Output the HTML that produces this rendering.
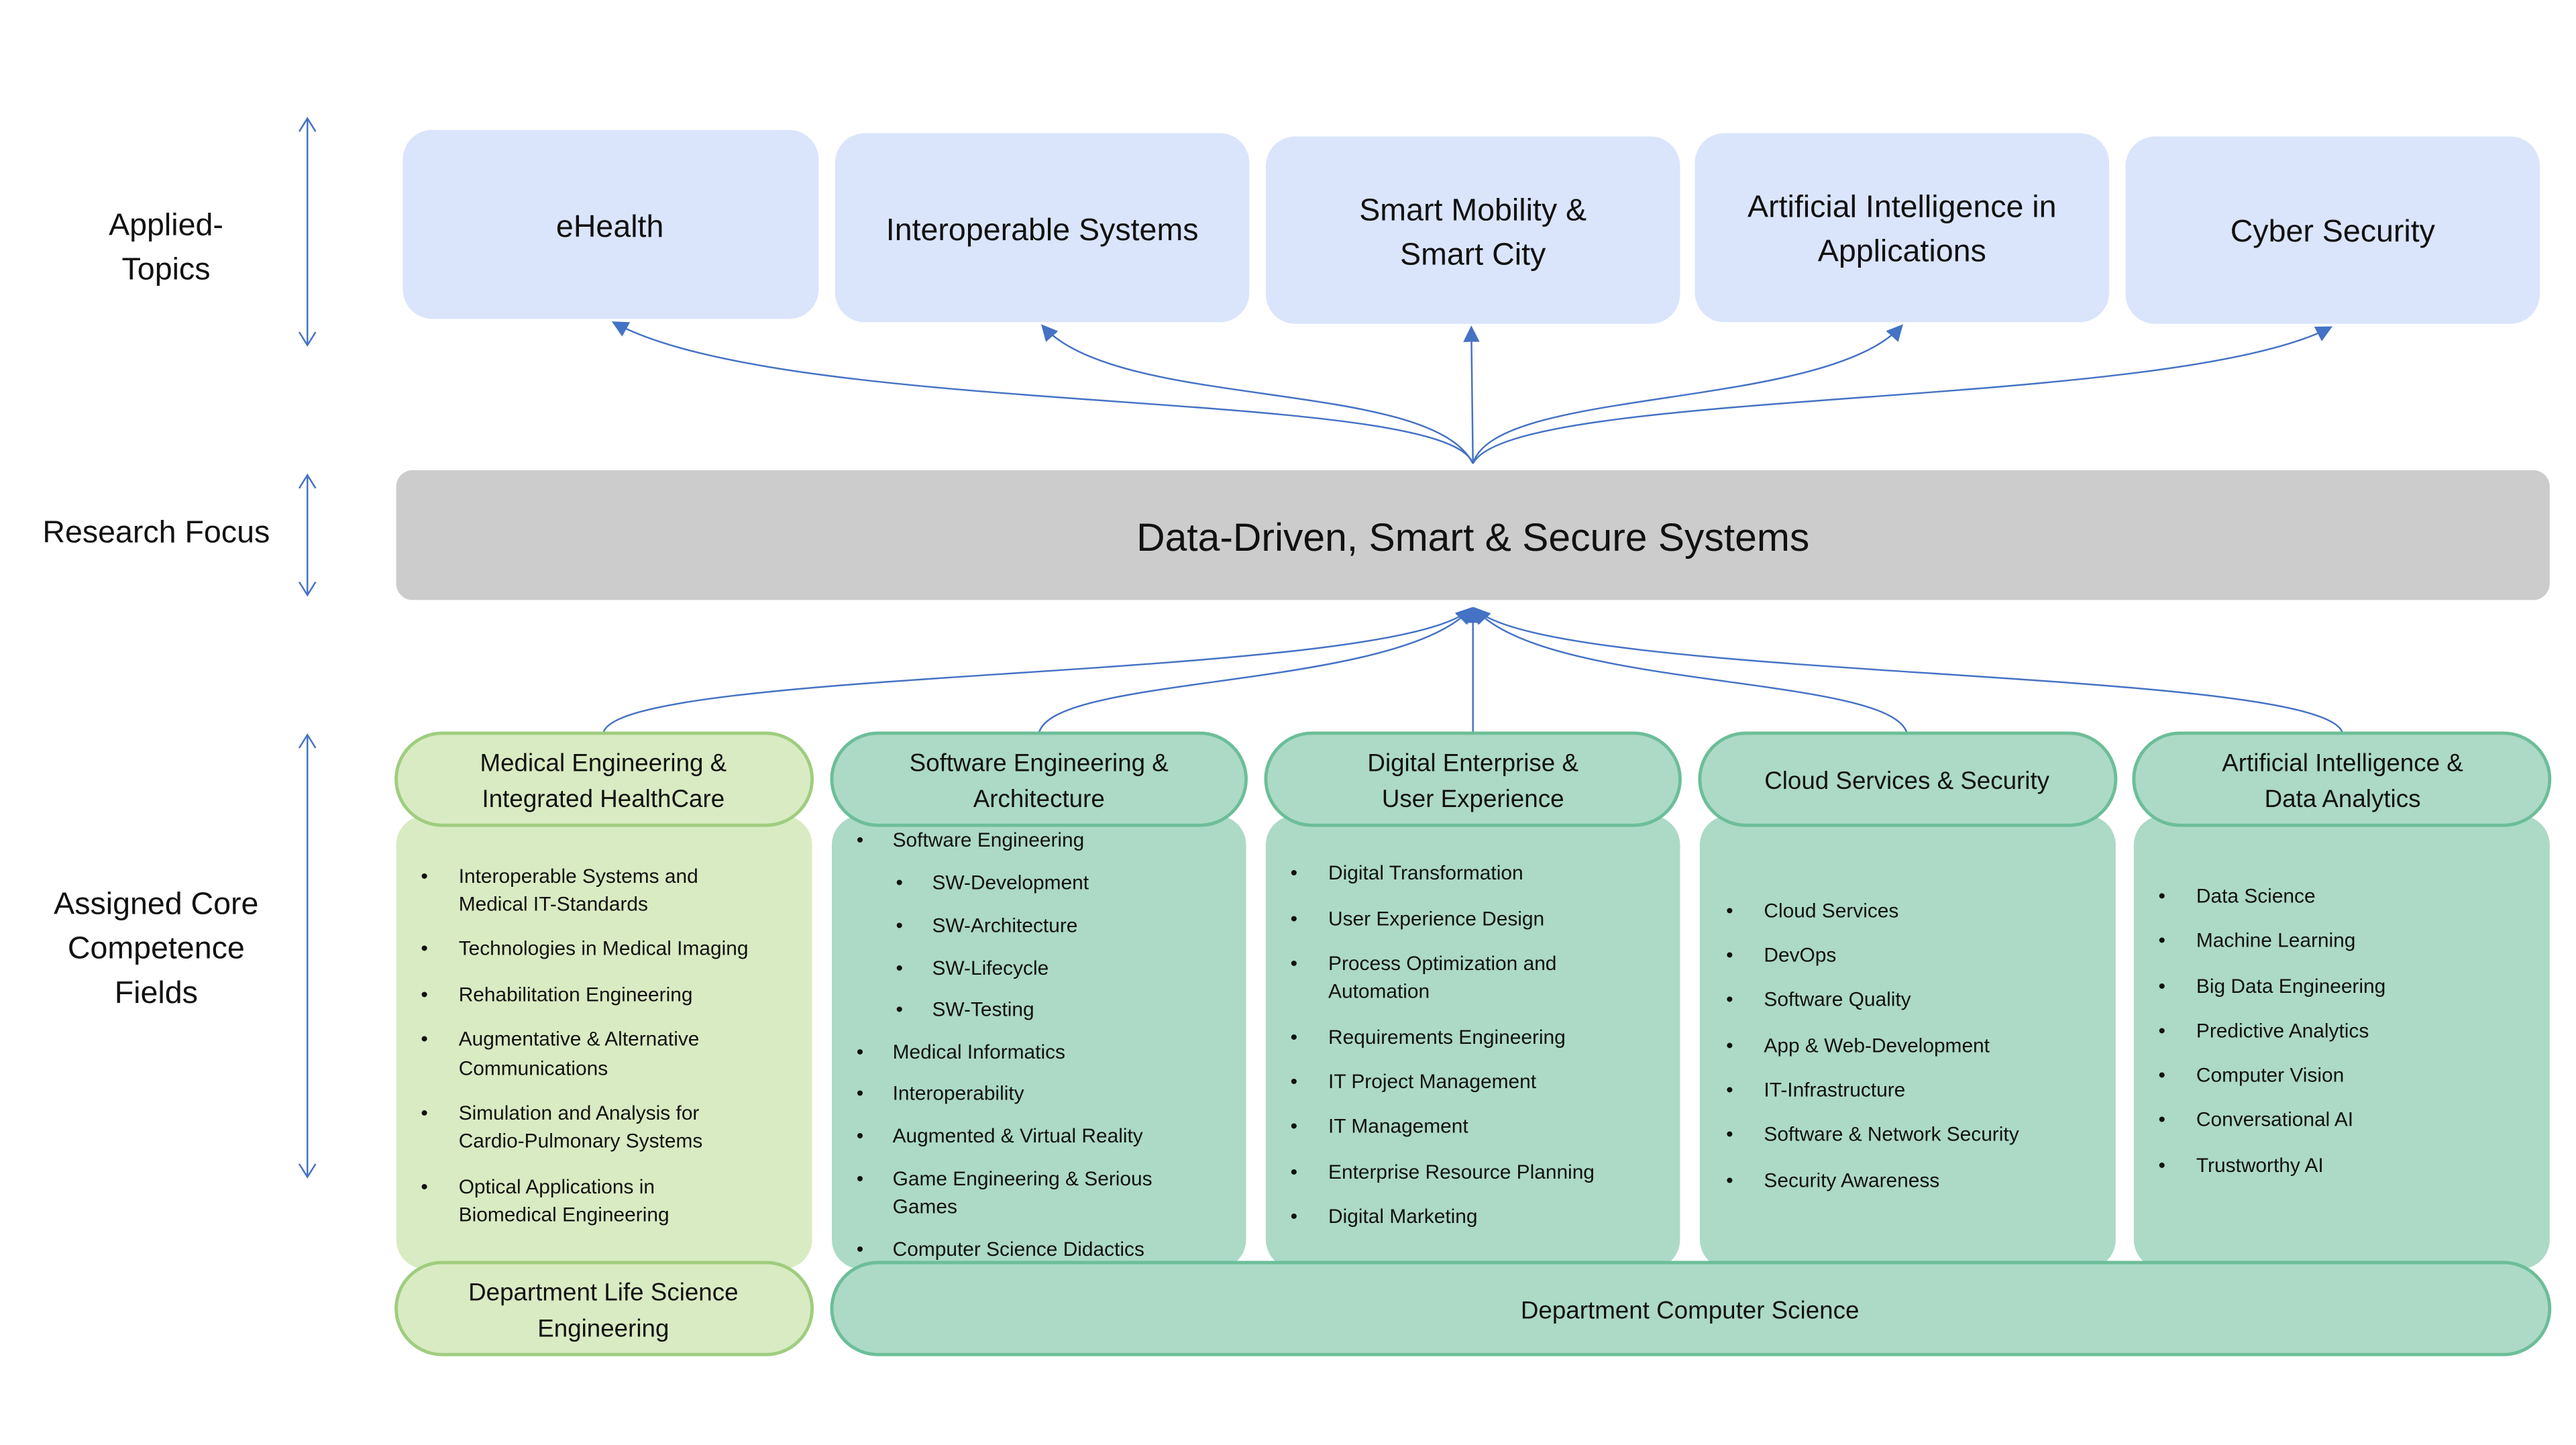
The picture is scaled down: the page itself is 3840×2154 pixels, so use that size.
<!DOCTYPE html>
<html><head><meta charset="utf-8"><style>
html,body{margin:0;padding:0;background:#fff;}
svg{display:block;}
text{font-family:"Liberation Sans",sans-serif;fill:#111;}
</style></head><body>
<svg width="3840" height="2154" viewBox="0 0 1567 879" preserveAspectRatio="none" xmlns="http://www.w3.org/2000/svg">
<defs>
<marker id="ah2" viewBox="0 0 10 10" refX="9" refY="5" markerWidth="10" markerHeight="10" orient="auto" markerUnits="userSpaceOnUse">
<path d="M0,0 L10,5 L0,10 z" fill="#4472c4"/>
</marker>
</defs>
<rect width="1567" height="879" fill="#fff"/>

<g font-size="19" text-anchor="middle">
<text x="101" y="143">Applied-</text>
<text x="101" y="170">Topics</text>
<text x="95" y="330">Research Focus</text>
<text x="95" y="556">Assigned Core</text>
<text x="95" y="583">Competence</text>
<text x="95" y="610">Fields</text>
</g>
<g stroke="#4472c4" stroke-width="1" fill="none">
<line x1="187" y1="72" x2="187" y2="210"/><polyline points="182,80 187,72 192,80"/><polyline points="182,202 187,210 192,202"/>
<line x1="187" y1="289" x2="187" y2="362"/><polyline points="182,297 187,289 192,297"/><polyline points="182,354 187,362 192,354"/>
<line x1="187" y1="447" x2="187" y2="716"/><polyline points="182,455 187,447 192,455"/><polyline points="182,708 187,716 192,708"/>
</g>

<g fill="#dae5fc">
<rect x="245" y="79" width="253" height="115" rx="18"/>
<rect x="508" y="81" width="252" height="115" rx="18"/>
<rect x="770" y="83" width="252" height="114" rx="18"/>
<rect x="1031" y="81" width="252" height="115" rx="18"/>
<rect x="1293" y="83" width="252" height="114" rx="18"/>
</g>
<g font-size="19" text-anchor="middle">
<text x="371" y="144">eHealth</text>
<text x="634" y="146">Interoperable Systems</text>
<text x="896" y="134">Smart Mobility &amp;</text>
<text x="896" y="161">Smart City</text>
<text x="1157" y="132">Artificial Intelligence in</text>
<text x="1157" y="159">Applications</text>
<text x="1419" y="147">Cyber Security</text>
</g>

<g stroke="#4472c4" stroke-width="1" fill="none" marker-end="url(#ah2)">
<path d="M896,282 C880,235 480,255 373,196"/>
<path d="M896,282 C870,230 680,250 634,198"/>
<path d="M896,282 L895,199"/>
<path d="M896,282 C910,235 1110,250 1157,198"/>
<path d="M896,282 C920,235 1320,250 1418,199"/>
</g>

<rect x="241" y="286" width="1310" height="79" rx="10" fill="#cccccc"/>
<text x="896" y="335" font-size="24" text-anchor="middle">Data-Driven, Smart &amp; Secure Systems</text>

<g stroke="#4472c4" stroke-width="1" fill="none" marker-end="url(#ah2)">
<path d="M367,446 C375,405 850,415 895,370"/>
<path d="M632,446 C640,410 850,420 895,370"/>
<path d="M896,446 L896,370"/>
<path d="M1160,446 C1150,410 940,420 897,370"/>
<path d="M1425,446 C1415,405 940,415 897,370"/>
</g>

<rect x="241" y="496" width="253" height="276" rx="18" fill="#d9ebc2"/>
<rect x="506" y="496" width="252" height="276" rx="18" fill="#acdac7"/>
<rect x="770" y="496" width="252" height="276" rx="18" fill="#acdac7"/>
<rect x="1034" y="496" width="253" height="276" rx="18" fill="#acdac7"/>
<rect x="1298" y="496" width="253" height="276" rx="18" fill="#acdac7"/>

<rect x="241" y="446" width="253" height="56" rx="28" fill="#d9ebc2" stroke="#9fcd7f" stroke-width="2"/>
<rect x="506" y="446" width="252" height="56" rx="28" fill="#acdac7" stroke="#6cbe98" stroke-width="2"/>
<rect x="770" y="446" width="252" height="56" rx="28" fill="#acdac7" stroke="#6cbe98" stroke-width="2"/>
<rect x="1034" y="446" width="253" height="56" rx="28" fill="#acdac7" stroke="#6cbe98" stroke-width="2"/>
<rect x="1298" y="446" width="253" height="56" rx="28" fill="#acdac7" stroke="#6cbe98" stroke-width="2"/>
<g font-size="15" text-anchor="middle">
<text x="367" y="469">Medical Engineering &amp;</text>
<text x="367" y="491">Integrated HealthCare</text>
<text x="632" y="469">Software Engineering &amp;</text>
<text x="632" y="491">Architecture</text>
<text x="896" y="469">Digital Enterprise &amp;</text>
<text x="896" y="491">User Experience</text>
<text x="1160" y="480">Cloud Services &amp; Security</text>
<text x="1425" y="469">Artificial Intelligence &amp;</text>
<text x="1425" y="491">Data Analytics</text>
</g>

<rect x="241" y="768" width="253" height="56" rx="28" fill="#d9ebc2" stroke="#9fcd7f" stroke-width="2"/>
<rect x="506" y="768" width="1045" height="56" rx="28" fill="#acdac7" stroke="#6cbe98" stroke-width="2"/>
<g font-size="15" text-anchor="middle">
<text x="367" y="791">Department Life Science</text>
<text x="367" y="813">Engineering</text>
<text x="1028" y="802">Department Computer Science</text>
</g>

<g font-size="12.2">
<text x="256" y="537">•</text><text x="279" y="537">Interoperable Systems and</text><text x="279" y="554">Medical IT-Standards</text>
<text x="256" y="581">•</text><text x="279" y="581">Technologies in Medical Imaging</text>
<text x="256" y="609">•</text><text x="279" y="609">Rehabilitation Engineering</text>
<text x="256" y="636">•</text><text x="279" y="636">Augmentative &amp; Alternative</text><text x="279" y="654">Communications</text>
<text x="256" y="681">•</text><text x="279" y="681">Simulation and Analysis for</text><text x="279" y="698">Cardio-Pulmonary Systems</text>
<text x="256" y="726">•</text><text x="279" y="726">Optical Applications in</text><text x="279" y="743">Biomedical Engineering</text>
<text x="521" y="515">•</text><text x="543" y="515">Software Engineering</text>
<text x="545" y="541">•</text><text x="567" y="541">SW-Development</text>
<text x="545" y="567">•</text><text x="567" y="567">SW-Architecture</text>
<text x="545" y="593">•</text><text x="567" y="593">SW-Lifecycle</text>
<text x="545" y="618">•</text><text x="567" y="618">SW-Testing</text>
<text x="521" y="644">•</text><text x="543" y="644">Medical Informatics</text>
<text x="521" y="669">•</text><text x="543" y="669">Interoperability</text>
<text x="521" y="695">•</text><text x="543" y="695">Augmented &amp; Virtual Reality</text>
<text x="521" y="721">•</text><text x="543" y="721">Game Engineering &amp; Serious</text><text x="543" y="738">Games</text>
<text x="521" y="764">•</text><text x="543" y="764">Computer Science Didactics</text>
<text x="785" y="535">•</text><text x="808" y="535">Digital Transformation</text>
<text x="785" y="563">•</text><text x="808" y="563">User Experience Design</text>
<text x="785" y="590">•</text><text x="808" y="590">Process Optimization and</text><text x="808" y="607">Automation</text>
<text x="785" y="635">•</text><text x="808" y="635">Requirements Engineering</text>
<text x="785" y="662">•</text><text x="808" y="662">IT Project Management</text>
<text x="785" y="689">•</text><text x="808" y="689">IT Management</text>
<text x="785" y="717">•</text><text x="808" y="717">Enterprise Resource Planning</text>
<text x="785" y="744">•</text><text x="808" y="744">Digital Marketing</text>
<text x="1050" y="558">•</text><text x="1073" y="558">Cloud Services</text>
<text x="1050" y="585">•</text><text x="1073" y="585">DevOps</text>
<text x="1050" y="612">•</text><text x="1073" y="612">Software Quality</text>
<text x="1050" y="640">•</text><text x="1073" y="640">App &amp; Web-Development</text>
<text x="1050" y="667">•</text><text x="1073" y="667">IT-Infrastructure</text>
<text x="1050" y="694">•</text><text x="1073" y="694">Software &amp; Network Security</text>
<text x="1050" y="722">•</text><text x="1073" y="722">Security Awareness</text>
<text x="1313" y="549">•</text><text x="1336" y="549">Data Science</text>
<text x="1313" y="576">•</text><text x="1336" y="576">Machine Learning</text>
<text x="1313" y="604">•</text><text x="1336" y="604">Big Data Engineering</text>
<text x="1313" y="631">•</text><text x="1336" y="631">Predictive Analytics</text>
<text x="1313" y="658">•</text><text x="1336" y="658">Computer Vision</text>
<text x="1313" y="685">•</text><text x="1336" y="685">Conversational AI</text>
<text x="1313" y="713">•</text><text x="1336" y="713">Trustworthy AI</text>
</g>
</svg>
</body></html>
